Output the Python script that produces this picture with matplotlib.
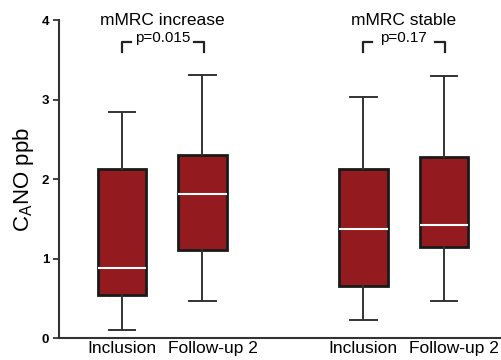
import matplotlib
matplotlib.use("Agg")
import matplotlib.pyplot as plt
import matplotlib.transforms as mtransforms

plt.rcParams["font.family"] = ["Liberation Sans", "DejaVu Sans"]

# data
groups = ["mMRC increase", "mMRC stable"]
p_values = ["p=0.015", "p=0.17"]
tick_labels = ["Inclusion", "Follow-up 2", "Inclusion", "Follow-up 2"]
positions = [1, 2, 4, 5]
whislo = [0.10, 0.47, 0.235, 0.47]
q1 = [0.545, 1.115, 0.66, 1.145]
med = [0.89, 1.81, 1.37, 1.42]
q3 = [2.13, 2.31, 2.13, 2.28]
whishi = [2.85, 3.31, 3.03, 3.30]

BOX = "#931a1e"
EDGE = "#1a1a1a"
GRAY = "#333333"

fig = plt.figure(figsize=(5.01, 3.6), dpi=100)
ax = fig.add_axes([0.1178, 0.0603, 0.8822, 0.8837])

stats = []
for i in range(len(positions)):
    stats.append(dict(whislo=whislo[i], q1=q1[i], med=med[i], q3=q3[i],
                      whishi=whishi[i], fliers=[]))

ax.bxp(stats, positions=positions, widths=0.6, patch_artist=True,
       showfliers=False,
       boxprops=dict(facecolor=BOX, edgecolor=EDGE, linewidth=2.0),
       medianprops=dict(color="white", linewidth=1.5),
       whiskerprops=dict(color=GRAY, linewidth=1.4),
       capprops=dict(color=GRAY, linewidth=1.4),
       capwidths=0.33)

ax.set_xlim(0.217, 5.71)
ax.set_ylim(0, 4)

for s in ["top", "right"]:
    ax.spines[s].set_visible(False)
for s in ["left", "bottom"]:
    ax.spines[s].set_linewidth(1.5)
    ax.spines[s].set_color(GRAY)

ax.set_yticks([0, 1, 2, 3, 4])
ax.set_yticklabels(["0", "1", "2", "3", "4"], fontsize=9.5, fontweight="bold")
ax.tick_params(axis="y", length=4, width=1.3, color=GRAY, pad=3)
ax.set_xticks(positions)
ax.set_xticklabels(tick_labels, fontsize=12.5)
ax.tick_params(axis="x", length=0, pad=2)
# follow-up labels sit a bit to the right in the original
for k, lab in enumerate(ax.get_xticklabels()):
    if k % 2 == 1:
        lab.set_transform(lab.get_transform() +
                          mtransforms.ScaledTranslation(0.1, 0, fig.dpi_scale_trans))

ax.set_ylabel("C$_\\mathregular{A}$NO ppb", fontsize=16, labelpad=4)

# group titles and p-value brackets
for g in range(2):
    x0 = positions[2 * g]
    x1 = positions[2 * g + 1]
    xc = (x0 + x1) / 2
    ax.text(xc, 4.0, groups[g], fontsize=12.5, ha="center", va="center",
            clip_on=False)
    ax.text(xc, 3.77, p_values[g], fontsize=11, ha="center", va="center")
    ax.plot([x0, x0, x0 + 0.11], [3.605, 3.73, 3.73], color="#222222", lw=1.6)
    ax.plot([x1 - 0.11, x1 + 0.02, x1 + 0.02], [3.73, 3.73, 3.605],
            color="#222222", lw=1.6)

fig.savefig("out.png", dpi=100)
